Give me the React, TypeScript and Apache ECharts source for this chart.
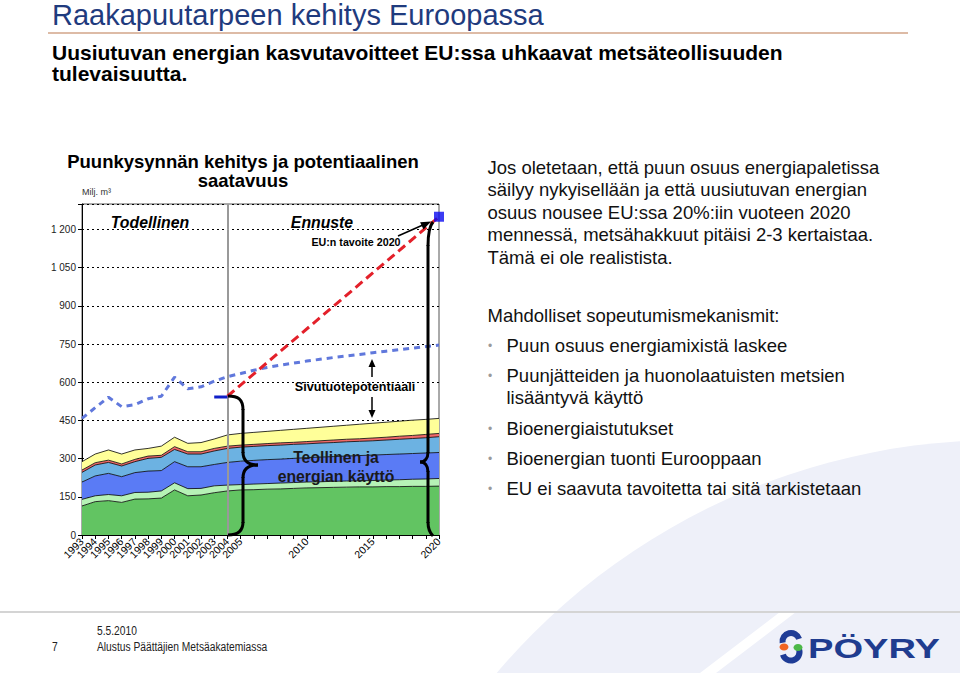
import React, { useEffect, useRef } from 'react';
import * as echarts from 'echarts';

const years = ['1993','1994','1995','1996','1997','1998','1999','2000','2001','2002','2003','2004','2005','2006','2007','2008','2009','2010','2011','2012','2013','2014','2015','2016','2017','2018','2019','2020'];
const shownYears = ['1993','1994','1995','1996','1997','1998','1999','2000','2001','2002','2003','2004','2005','2010','2015','2020'];
const yTicksMax = 1200;

// stacked layers (milj. m3), bottom to top
const greenLayer = [114,131,135,128,141,142,145,177,154,157,166,173,177,178,180,181,183,185,186,187,188,189,189,190,190,191,191,192];
const lightGreenLayer = [26,23,24,26,26,26,28,28,28,26,27,23,21,22,22,23,23,23,23,24,24,24,25,26,27,28,29,30];
const blueLayer = [68,78,83,75,78,83,80,83,86,85,84,89,92,93,94,94,95,96,97,97,98,99,100,100,101,101,102,102];
const lightBlueLayer = [38,43,43,42,43,50,52,48,50,50,53,55,55,55,55,55,55,54,55,55,56,56,56,57,58,59,60,62];
const redLayer = [9,9,9,8,9,9,8,11,9,9,10,9,8,8,8,9,8,9,9,10,10,10,11,11,12,12,13,13];
const yellowLayer = [33,34,40,39,37,30,36,37,33,36,37,44,46,47,48,49,51,52,53,54,55,57,58,59,59,60,59,59];

// potential availability (blue dotted)
const potential = [458,500,541,504,512,535,545,620,574,582,604,622,634,647,658,667,675,683,690,697,703,709,716,722,728,734,740,746];

// demand: actual end level and forecast (red dashed) to EU 2020 target
const actualDemandYears = ['2003','2004'];
const actualDemandLevel = 542;
const forecastStartYear = '2004';
const forecastStartValue = 545;
const targetYear = '2020';
const targetValue = 1250;
const boundaryYear = '2004';

const F = '"Liberation Sans", Arial, Helvetica, sans-serif';

function fmt(v: number) {
  const s = String(v);
  return s.length > 3 ? s.slice(0, s.length - 3) + ' ' + s.slice(-3) : s;
}

function txt(text: string, x: number, y: number, font: string, fill = '#000', align = 'left', extra: any = {}) {
  return {
    type: 'text', x, y, z: 100,
    ...extra,
    style: { text, font, fill, textAlign: align, textVerticalAlign: 'middle', align, verticalAlign: 'middle' },
  };
}
function ln(x1: number, y1: number, x2: number, y2: number, stroke = '#000', lineWidth = 1) {
  return { type: 'line', z: 100, shape: { x1, y1, x2, y2 }, style: { stroke, lineWidth } };
}
function bz(x1: number, y1: number, cpx1: number, cpy1: number, cpx2: number, cpy2: number, x2: number, y2: number, lw = 3) {
  return { type: 'bezierCurve', z: 100, shape: { x1, y1, cpx1, cpy1, cpx2, cpy2, x2, y2 }, style: { stroke: '#000', lineWidth: lw, fill: 'none' } };
}
function tri(pts: number[][], fill = '#000') {
  return { type: 'polygon', z: 100, shape: { points: pts }, style: { fill } };
}

export default function App() {
  const ref = useRef<HTMLDivElement>(null);
  useEffect(() => {
    if (!ref.current) return;
    const chart = echarts.init(ref.current, null, { renderer: 'svg' });
    const layerStyle = (color: string) => ({
      type: 'line', stack: 'use', symbol: 'none', z: 2,
      lineStyle: { color: '#000', width: 0.8 },
      areaStyle: { color, opacity: 1 },
    });
    const redData = years.map((y) => (y === forecastStartYear ? forecastStartValue : y === targetYear ? targetValue : null));
    const actualData = years.map((y) => (actualDemandYears.includes(y) ? actualDemandLevel : null));

    const graphics: any[] = [
      { type: 'circle', z: -10, shape: { cx: 1000, cy: 1100, r: 660 }, style: { fill: '#EEF0F9' } },
      { type: 'polygon', z: -9, shape: { points: [[700, 673], [716, 673], [796, 612], [780, 612]] }, style: { fill: '#ffffff' } },
      // header
      txt('Raakapuutarpeen kehitys Euroopassa', 52, 15, `29px ${F}`, '#1F3B7E'),
      ln(48, 33, 908, 33, '#DDBBA6', 2),
      txt('Uusiutuvan energian kasvutavoitteet EU:ssa uhkaavat metsäteollisuuden', 52, 52, `bold 21px ${F}`, '#000'),
      txt('tulevaisuutta.', 52, 73, `bold 21px ${F}`, '#000'),
      // chart title
      txt('Puunkysynnän kehitys ja potentiaalinen', 243, 161, `bold 18.5px ${F}`, '#000', 'center'),
      txt('saatavuus', 243, 180, `bold 18.5px ${F}`, '#000', 'center'),
      txt('Milj. m³', 82, 192, `9px ${F}`, '#333'),
      txt('Todellinen', 150, 222, `italic bold 15.8px ${F}`, '#000', 'center'),
      txt('Ennuste', 322, 222, `italic bold 15.8px ${F}`, '#000', 'center'),
      txt('EU:n tavoite 2020', 356, 242, `bold 10.7px ${F}`, '#000', 'center'),
      ln(398, 236, 424, 224.5, '#000', 1.5),
      tri([[431, 221.5], [423.5, 229.4], [420.1, 222.2]]),
      txt('Sivutuotepotentiaali', 355, 387, `bold 12.6px ${F}`, '#000', 'center'),
      ln(372, 377, 372, 366, '#000', 1.5),
      tri([[372, 359], [368.5, 367], [375.5, 367]]),
      ln(372, 397, 372, 411, '#000', 1.5),
      tri([[372, 418], [368.5, 410], [375.5, 410]]),
      txt('Teollinen ja', 336, 457, `bold 15.8px ${F}`, '#1a1a1a', 'center'),
      txt('energian käyttö', 336, 476, `bold 15.8px ${F}`, '#1a1a1a', 'center'),
      // left brace
      bz(228, 396, 238, 396, 243, 399, 243, 410),
      ln(243, 409, 243, 453, '#000', 3),
      bz(243, 452, 243, 461, 249, 465, 258, 465),
      bz(258, 465, 249, 465, 243, 469, 243, 478),
      ln(243, 477, 243, 523, '#000', 3),
      bz(243, 522, 243, 531, 238, 535, 228, 535),
      // right brace
      bz(433, 222, 429.5, 226, 428, 233, 428, 246),
      ln(428, 245, 428, 453, '#000', 3),
      bz(428, 452, 428, 458, 425, 462, 420, 462),
      bz(420, 462, 425, 462, 428, 466, 428, 472),
      ln(428, 471, 428, 523, '#000', 3),
      bz(428, 522, 428, 530, 430, 533, 433, 536),
      // right panel text
      txt('Jos oletetaan, että puun osuus energiapaletissa', 487.5, 167, `18.5px ${F}`, '#111'),
      txt('säilyy nykyisellään ja että uusiutuvan energian', 487.5, 189.5, `18.5px ${F}`, '#111'),
      txt('osuus nousee EU:ssa 20%:iin vuoteen 2020', 487.5, 212, `18.5px ${F}`, '#111'),
      txt('mennessä, metsähakkuut pitäisi 2-3 kertaistaa.', 487.5, 234.5, `18.5px ${F}`, '#111'),
      txt('Tämä ei ole realistista.', 487.5, 257, `18.5px ${F}`, '#111'),
      txt('Mahdolliset sopeutumismekanismit:', 487.5, 315.5, `18.5px ${F}`, '#111'),
    ];
    const bullets: [string, number][] = [
      ['Puun osuus energiamixistä laskee', 345.5],
      ['Puunjätteiden ja huonolaatuisten metsien', 375.5],
      ['lisääntyvä käyttö', 397.5],
      ['Bioenergiaistutukset', 428.5],
      ['Bioenergian tuonti Eurooppaan', 458.5],
      ['EU ei saavuta tavoitetta tai sitä tarkistetaan', 488.5],
    ];
    bullets.forEach(([t, y], i) => {
      if (i !== 2) graphics.push(txt('•', 490, y, `12px ${F}`, '#9a9a9a', 'center'));
      graphics.push(txt(t, 506.5, y, `18.5px ${F}`, '#111'));
    });
    graphics.push(
      ln(0, 612, 960, 612, '#D4D4D4', 2),
      txt('5.5.2010', 97, 631, `12.5px ${F}`, '#222', 'left', { scaleX: 0.82, originX: 0, originY: 0 }),
      txt('7', 52, 647, `12.5px ${F}`, '#222', 'left', { scaleX: 0.82, originX: 0, originY: 0 }),
      txt('Alustus Päättäjien Metsäakatemiassa', 97, 647, `12.5px ${F}`, '#222', 'left', { scaleX: 0.82, originX: 0, originY: 0 }),
      // logo
      { type: 'arc', z: 100, shape: { cx: 791, cy: 641.5, r: 8.5, startAngle: Math.PI * 0.95, endAngle: Math.PI * 1.9, clockwise: true }, style: { stroke: '#1E3C96', lineWidth: 6, fill: 'none' } },
      { type: 'arc', z: 100, shape: { cx: 791, cy: 652, r: 8.5, startAngle: -Math.PI * 0.1, endAngle: Math.PI * 0.9, clockwise: true }, style: { stroke: '#1E3C96', lineWidth: 6, fill: 'none' } },
      { type: 'ellipse', z: 100, shape: { cx: 784, cy: 647, rx: 4.5, ry: 3.5 }, style: { fill: '#F26522' } },
      { type: 'ellipse', z: 100, shape: { cx: 798, cy: 647.5, rx: 4.5, ry: 3.5 }, style: { fill: '#4CB848' } },
      txt('PÖYRY', 808, 648, `bold 28px ${F}`, '#1F3C8F', 'left', { scaleX: 1.36, originX: 0, originY: 0 }),
    );

    chart.setOption({
      animation: false,
      textStyle: { fontFamily: F },
      grid: { left: 82, right: 521, top: 204, bottom: 138, show: true, borderColor: '#555', borderWidth: 1, containLabel: false },
      xAxis: {
        type: 'category', data: years, boundaryGap: false,
        axisLine: { lineStyle: { color: '#000', width: 1 } },
        axisTick: { show: true, interval: 0, length: 4, lineStyle: { color: '#000' } },
        axisLabel: { interval: 0, rotate: 45, fontSize: 10.5, color: '#000', fontFamily: F, margin: 5, formatter: (v: string) => (shownYears.includes(v) ? v : '') },
        splitLine: { show: false },
      },
      yAxis: {
        type: 'value', min: 0, max: 1300, interval: 150,
        axisLine: { show: true, lineStyle: { color: '#000' } },
        axisTick: { show: true, length: 4, lineStyle: { color: '#000' } },
        axisLabel: { fontSize: 10, color: '#222', fontFamily: F, margin: 6, formatter: (v: number) => (v > yTicksMax ? '' : fmt(v)) },
        splitLine: { show: true, lineStyle: { color: '#000', type: [2, 3], width: 1.2 } },
      },
      series: [
        { ...layerStyle('#62C462'), name: 'green', data: greenLayer },
        { ...layerStyle('#B6F2B6'), name: 'lightgreen', data: lightGreenLayer },
        { ...layerStyle('#5A7BF5'), name: 'blue', data: blueLayer },
        { ...layerStyle('#6CB2E2'), name: 'lightblue', data: lightBlueLayer },
        { ...layerStyle('#F06A6A'), name: 'red', data: redLayer },
        { ...layerStyle('#FFFF99'), name: 'yellow', data: yellowLayer },
        {
          type: 'line', name: 'potential', data: potential, symbol: 'none', z: 5,
          lineStyle: { color: '#6078DC', width: 3, type: [6, 5] },
          markLine: {
            silent: true, symbol: ['none', 'none'], label: { show: false },
            lineStyle: { color: '#999', width: 2, type: 'solid' },
            data: [{ xAxis: boundaryYear }],
          },
        },
        { type: 'line', name: 'forecast', data: redData, connectNulls: true, symbol: 'none', z: 6, lineStyle: { color: '#E3202A', width: 3, type: [9, 5] } },
        { type: 'line', name: 'actual', data: actualData, symbol: 'none', z: 6, lineStyle: { color: '#1020C8', width: 3 } },
        { type: 'scatter', name: 'target', data: [[targetYear, targetValue]], symbol: 'rect', symbolSize: 10, clip: false, z: 7, itemStyle: { color: '#0A0AF0' } },
      ],
      graphic: graphics,
    });
    return () => chart.dispose();
  }, []);
  return <div ref={ref} style={{ position: 'fixed', left: 0, top: 0, width: 960, height: 673, background: '#fff' }} />;
}
